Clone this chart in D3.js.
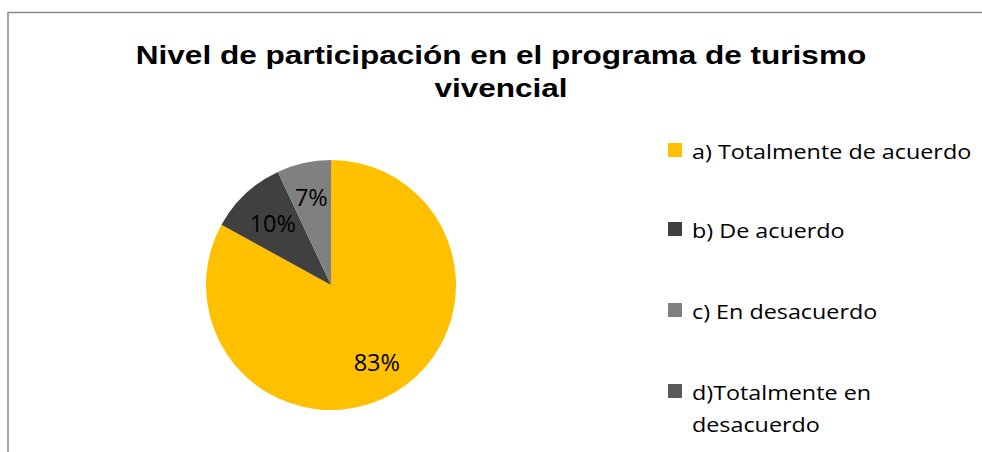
<!DOCTYPE html>
<html>
<head>
<meta charset="utf-8">
<script src="https://cdn.jsdelivr.net/npm/d3@7"></script>
<style>
  body { margin: 0; background: #fff; }
  svg { display: block; }
</style>
</head>
<body>
<div id="chart"></div>
<script>
// Chart data
const categories = ['a) Totalmente de acuerdo', 'b) De acuerdo', 'c) En desacuerdo', 'd)Totalmente en desacuerdo'];
const legendLines = [['a) Totalmente de acuerdo'], ['b) De acuerdo'], ['c) En desacuerdo'], ['d)Totalmente en', 'desacuerdo']];
const values = [83, 10, 7, 0];
const colors = ['#FFC000', '#404040', '#808080', '#595959'];
const titleLines = ['Nivel de participación en el programa de turismo', 'vivencial'];

const w = 982;
const h = 452;

const svg = d3.select('#chart')
  .append('svg')
  .attr('width', w)
  .attr('height', h);

// chart area border
svg.append('path')
  .attr('d', 'M8,' + (h + 2) + ' L8,12.5 L' + (w + 2) + ',12.5')
  .attr('fill', 'none')
  .attr('stroke', '#898989')
  .attr('stroke-width', 1.5);

// Title (the original is stretched horizontally)
svg.append('text')
  .attr('transform', 'translate(501,64) scale(1.19,1)')
  .attr('text-anchor', 'middle')
  .style('font-family', 'Liberation Sans, Arial, sans-serif')
  .style('font-weight', 'bold')
  .style('font-size', '26.5px')
  .selectAll('tspan')
  .data(titleLines)
  .enter()
  .append('tspan')
  .attr('x', 0)
  .attr('dy', (d, i) => i === 0 ? 0 : 33)
  .text(d => d);

// Pie
const cx = 331, cy = 285, r = 125;
const pie = d3.pie().sort(null).value(d => d);
const arc = d3.arc().innerRadius(0).outerRadius(r);
const arcs = pie(values);

const g = svg.append('g').attr('transform', 'translate(' + cx + ',' + cy + ')');

g.selectAll('path')
  .data(arcs)
  .enter()
  .append('path')
  .attr('d', arc)
  .attr('fill', (d, i) => colors[i]);

// data labels
const labelR = [0.72, 0.68, 0.72];
g.selectAll('text.lbl')
  .data(arcs.filter(d => d.value > 0))
  .enter()
  .append('text')
  .attr('class', 'lbl')
  .attr('transform', (d, i) => {
    const a = d3.arc().innerRadius(r * labelR[i]).outerRadius(r * labelR[i]);
    return 'translate(' + a.centroid(d) + ')';
  })
  .attr('text-anchor', 'middle')
  .attr('dy', '0.36em')
  .style('font-family', 'Open Sans, sans-serif')
  .style('font-size', '23.5px')
  .style('fill', '#000')
  .text(d => d.value + '%');

// Legend
const rowY = [159, 238, 319, 400];
const legend = svg.append('g');
const item = legend.selectAll('g')
  .data(categories)
  .enter()
  .append('g')
  .attr('transform', (d, i) => 'translate(668,' + rowY[i] + ')');

item.append('rect')
  .attr('x', 0)
  .attr('y', -16)
  .attr('width', 14)
  .attr('height', 14)
  .attr('fill', (d, i) => colors[i]);

item.append('text')
  .attr('transform', 'translate(24,0) scale(1.167,1)')
  .style('font-family', 'Open Sans, sans-serif')
  .style('font-size', '20px')
  .style('fill', '#000')
  .selectAll('tspan')
  .data((d, i) => legendLines[i])
  .enter()
  .append('tspan')
  .attr('x', 0)
  .attr('dy', (d, i) => i === 0 ? 0 : 32)
  .text(d => d);
</script>
</body>
</html>
